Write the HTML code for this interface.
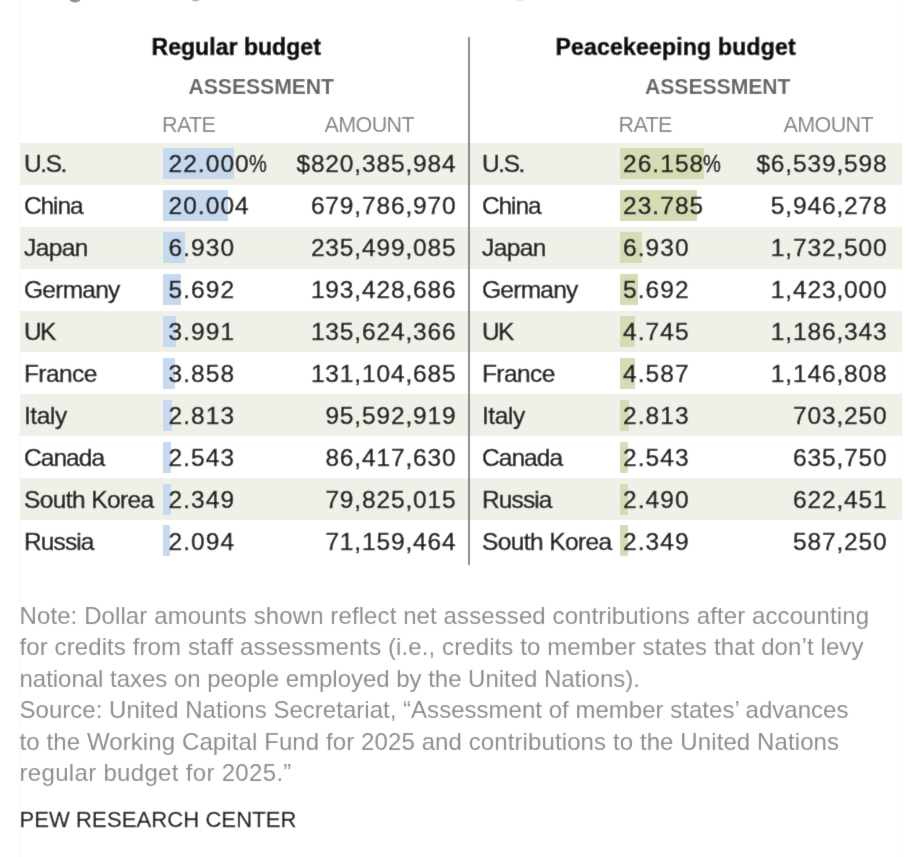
<!DOCTYPE html>
<html><head><meta charset="utf-8"><style>
html,body{margin:0;padding:0;background:#fff;}
body{width:923px;height:857px;position:relative;overflow:hidden;font-family:"Liberation Sans",sans-serif;}
#w{position:absolute;left:0;top:0;width:923px;height:857px;background:#fff;filter:url(#bl);}
.t{position:absolute;white-space:nowrap;font-size:24.5px;line-height:normal;color:#222222;-webkit-text-stroke:0.45px #222222;}
.nm{letter-spacing:-0.6px;}
.nu{letter-spacing:0.85px;}
.rt{letter-spacing:1.05px;}
.pc{display:inline-block;margin-left:-1px;letter-spacing:0;transform:scaleX(0.82);transform-origin:0 0;-webkit-text-stroke:0.5px #222222;}
.rb{position:absolute;left:20px;width:882px;background:#eff0e8;}
.bar{position:absolute;height:31px;}
.b1{background:#c6d9ef;}
.b2{background:#d5dcb3;}
.hd{position:absolute;white-space:nowrap;font-weight:bold;font-size:23px;line-height:normal;color:#111;letter-spacing:0.05px;-webkit-text-stroke:0.7px #111;}
.as{position:absolute;white-space:nowrap;font-weight:bold;font-size:21.2px;line-height:normal;color:#666;letter-spacing:-0.05px;}
.sub{position:absolute;white-space:nowrap;font-size:21.5px;line-height:normal;color:#858585;letter-spacing:-0.6px;}
.nt{position:absolute;left:19.5px;white-space:nowrap;font-size:24px;line-height:normal;color:#8a8a8a;letter-spacing:0.1px;}
.pew{position:absolute;left:19.5px;letter-spacing:0.1px;white-space:nowrap;font-size:22px;line-height:normal;color:#222;-webkit-text-stroke:0.3px #222;}
.div{position:absolute;left:468.2px;top:36.7px;width:2.3px;height:528.3px;background:#858585;}
.edge{position:absolute;top:0;width:3px;height:857px;background:#fdfdfd;}
</style></head><body><svg width="0" height="0" style="position:absolute"><filter id="bl" x="0" y="0" width="100%" height="100%"><feConvolveMatrix order="3" kernelMatrix="0 1 0 1 6 1 0 1 0" edgeMode="duplicate"/></filter></svg><div id="w">
<div class="edge" style="left:18px"></div>
<svg style="position:absolute;left:0;top:0" width="923" height="10"><ellipse cx="75" cy="-0.5" rx="5.5" ry="3" fill="#8f8f8f"/><ellipse cx="195.5" cy="-0.5" rx="3.8" ry="2" fill="#b5b5b5"/><ellipse cx="520" cy="-0.5" rx="4" ry="1.8" fill="#e2e2e2"/></svg>
<div class="edge" style="left:900px"></div>
<div class="rb" style="top:143.00px;height:41.90px"></div><div class="rb" style="top:226.80px;height:41.90px"></div><div class="rb" style="top:310.60px;height:41.90px"></div><div class="rb" style="top:394.40px;height:41.90px"></div><div class="rb" style="top:478.20px;height:41.90px"></div><div class="bar b1" style="left:163px;top:148.30px;width:71.06px"></div><div class="t nm" style="left:24.0px;top:150.43px;letter-spacing:-1.43px">U.S.</div><div class="t nu rt" style="left:168.5px;top:150.43px;">22.000<span class=pc>%</span></div><div class="t nu" style="right:466.5px;top:150.43px;">$820,385,984</div><div class="bar b1" style="left:163px;top:190.20px;width:64.61px"></div><div class="t nm" style="left:24.0px;top:192.33px;letter-spacing:-1.1px">China</div><div class="t nu rt" style="left:168.5px;top:192.33px;">20.004</div><div class="t nu" style="right:466.5px;top:192.33px;">679,786,970</div><div class="bar b1" style="left:163px;top:232.10px;width:22.38px"></div><div class="t nm" style="left:24.0px;top:234.23px;letter-spacing:-0.6px">Japan</div><div class="t nu rt" style="left:168.5px;top:234.23px;">6.930</div><div class="t nu" style="right:466.5px;top:234.23px;">235,499,085</div><div class="bar b1" style="left:163px;top:274.00px;width:18.39px"></div><div class="t nm" style="left:24.0px;top:276.13px;letter-spacing:-0.73px">Germany</div><div class="t nu rt" style="left:168.5px;top:276.13px;">5.692</div><div class="t nu" style="right:466.5px;top:276.13px;">193,428,686</div><div class="bar b1" style="left:163px;top:315.90px;width:12.89px"></div><div class="t nm" style="left:24.0px;top:318.03px;letter-spacing:-1.6px">UK</div><div class="t nu rt" style="left:168.5px;top:318.03px;">3.991</div><div class="t nu" style="right:466.5px;top:318.03px;">135,624,366</div><div class="bar b1" style="left:163px;top:357.80px;width:12.46px"></div><div class="t nm" style="left:24.0px;top:359.93px;letter-spacing:-0.6px">France</div><div class="t nu rt" style="left:168.5px;top:359.93px;">3.858</div><div class="t nu" style="right:466.5px;top:359.93px;">131,104,685</div><div class="bar b1" style="left:163px;top:399.70px;width:9.09px"></div><div class="t nm" style="left:24.0px;top:401.83px;letter-spacing:-0.45px">Italy</div><div class="t nu rt" style="left:168.5px;top:401.83px;">2.813</div><div class="t nu" style="right:466.5px;top:401.83px;">95,592,919</div><div class="bar b1" style="left:163px;top:441.60px;width:8.21px"></div><div class="t nm" style="left:24.0px;top:443.73px;letter-spacing:-0.96px">Canada</div><div class="t nu rt" style="left:168.5px;top:443.73px;">2.543</div><div class="t nu" style="right:466.5px;top:443.73px;">86,417,630</div><div class="bar b1" style="left:163px;top:483.50px;width:7.59px"></div><div class="t nm" style="left:24.0px;top:485.63px;letter-spacing:-0.6px">South Korea</div><div class="t nu rt" style="left:168.5px;top:485.63px;">2.349</div><div class="t nu" style="right:466.5px;top:485.63px;">79,825,015</div><div class="bar b1" style="left:163px;top:525.40px;width:6.76px"></div><div class="t nm" style="left:24.0px;top:527.53px;letter-spacing:-0.88px">Russia</div><div class="t nu rt" style="left:168.5px;top:527.53px;">2.094</div><div class="t nu" style="right:466.5px;top:527.53px;">71,159,464</div><div class="bar b2" style="left:620px;top:148.30px;width:84.49px"></div><div class="t nm" style="left:482.0px;top:150.43px;letter-spacing:-1.43px">U.S.</div><div class="t nu rt" style="left:623.0px;top:150.43px;">26.158<span class=pc>%</span></div><div class="t nu" style="right:35.5px;top:150.43px;">$6,539,598</div><div class="bar b2" style="left:620px;top:190.20px;width:76.83px"></div><div class="t nm" style="left:482.0px;top:192.33px;letter-spacing:-1.1px">China</div><div class="t nu rt" style="left:623.0px;top:192.33px;">23.785</div><div class="t nu" style="right:35.5px;top:192.33px;">5,946,278</div><div class="bar b2" style="left:620px;top:232.10px;width:22.38px"></div><div class="t nm" style="left:482.0px;top:234.23px;letter-spacing:-0.6px">Japan</div><div class="t nu rt" style="left:623.0px;top:234.23px;">6.930</div><div class="t nu" style="right:35.5px;top:234.23px;">1,732,500</div><div class="bar b2" style="left:620px;top:274.00px;width:18.39px"></div><div class="t nm" style="left:482.0px;top:276.13px;letter-spacing:-0.73px">Germany</div><div class="t nu rt" style="left:623.0px;top:276.13px;">5.692</div><div class="t nu" style="right:35.5px;top:276.13px;">1,423,000</div><div class="bar b2" style="left:620px;top:315.90px;width:15.33px"></div><div class="t nm" style="left:482.0px;top:318.03px;letter-spacing:-1.6px">UK</div><div class="t nu rt" style="left:623.0px;top:318.03px;">4.745</div><div class="t nu" style="right:35.5px;top:318.03px;">1,186,343</div><div class="bar b2" style="left:620px;top:357.80px;width:14.82px"></div><div class="t nm" style="left:482.0px;top:359.93px;letter-spacing:-0.6px">France</div><div class="t nu rt" style="left:623.0px;top:359.93px;">4.587</div><div class="t nu" style="right:35.5px;top:359.93px;">1,146,808</div><div class="bar b2" style="left:620px;top:399.70px;width:9.09px"></div><div class="t nm" style="left:482.0px;top:401.83px;letter-spacing:-0.45px">Italy</div><div class="t nu rt" style="left:623.0px;top:401.83px;">2.813</div><div class="t nu" style="right:35.5px;top:401.83px;">703,250</div><div class="bar b2" style="left:620px;top:441.60px;width:8.21px"></div><div class="t nm" style="left:482.0px;top:443.73px;letter-spacing:-0.96px">Canada</div><div class="t nu rt" style="left:623.0px;top:443.73px;">2.543</div><div class="t nu" style="right:35.5px;top:443.73px;">635,750</div><div class="bar b2" style="left:620px;top:483.50px;width:8.04px"></div><div class="t nm" style="left:482.0px;top:485.63px;letter-spacing:-0.88px">Russia</div><div class="t nu rt" style="left:623.0px;top:485.63px;">2.490</div><div class="t nu" style="right:35.5px;top:485.63px;">622,451</div><div class="bar b2" style="left:620px;top:525.40px;width:7.59px"></div><div class="t nm" style="left:482.0px;top:527.53px;letter-spacing:-0.6px">South Korea</div><div class="t nu rt" style="left:623.0px;top:527.53px;">2.349</div><div class="t nu" style="right:35.5px;top:527.53px;">587,250</div>
<div class="div"></div>
<div class="hd" style="left:151.5px;top:33.58px">Regular budget</div>
<div class="hd" style="left:555.5px;top:33.58px;letter-spacing:0.2px">Peacekeeping budget</div>
<div class="as" style="left:188.5px;top:75.11px">ASSESSMENT</div>
<div class="as" style="left:645px;top:75.11px">ASSESSMENT</div>
<div class="sub" style="left:162px;top:112.54px">RATE</div>
<div class="sub" style="left:324.5px;top:112.54px">AMOUNT</div>
<div class="sub" style="left:618.5px;top:112.54px">RATE</div>
<div class="sub" style="left:783.5px;top:112.54px">AMOUNT</div>
<div class="nt" style="top:601.88px;letter-spacing:0.1px">Note: Dollar amounts shown reflect net assessed contributions after accounting</div><div class="nt" style="top:633.33px;letter-spacing:0.1px">for credits from staff assessments (i.e., credits to member states that don’t levy</div><div class="nt" style="top:664.78px;letter-spacing:-0.025px">national taxes on people employed by the United Nations).</div><div class="nt" style="top:696.23px;letter-spacing:0.02px">Source: United Nations Secretariat, “Assessment of member states’ advances</div><div class="nt" style="top:727.68px;letter-spacing:0.1px">to the Working Capital Fund for 2025 and contributions to the United Nations</div><div class="nt" style="top:759.13px;letter-spacing:0.32px">regular budget for 2025.”</div>
<div class="pew" style="top:807.09px">PEW RESEARCH CENTER</div>
</div></body></html>
